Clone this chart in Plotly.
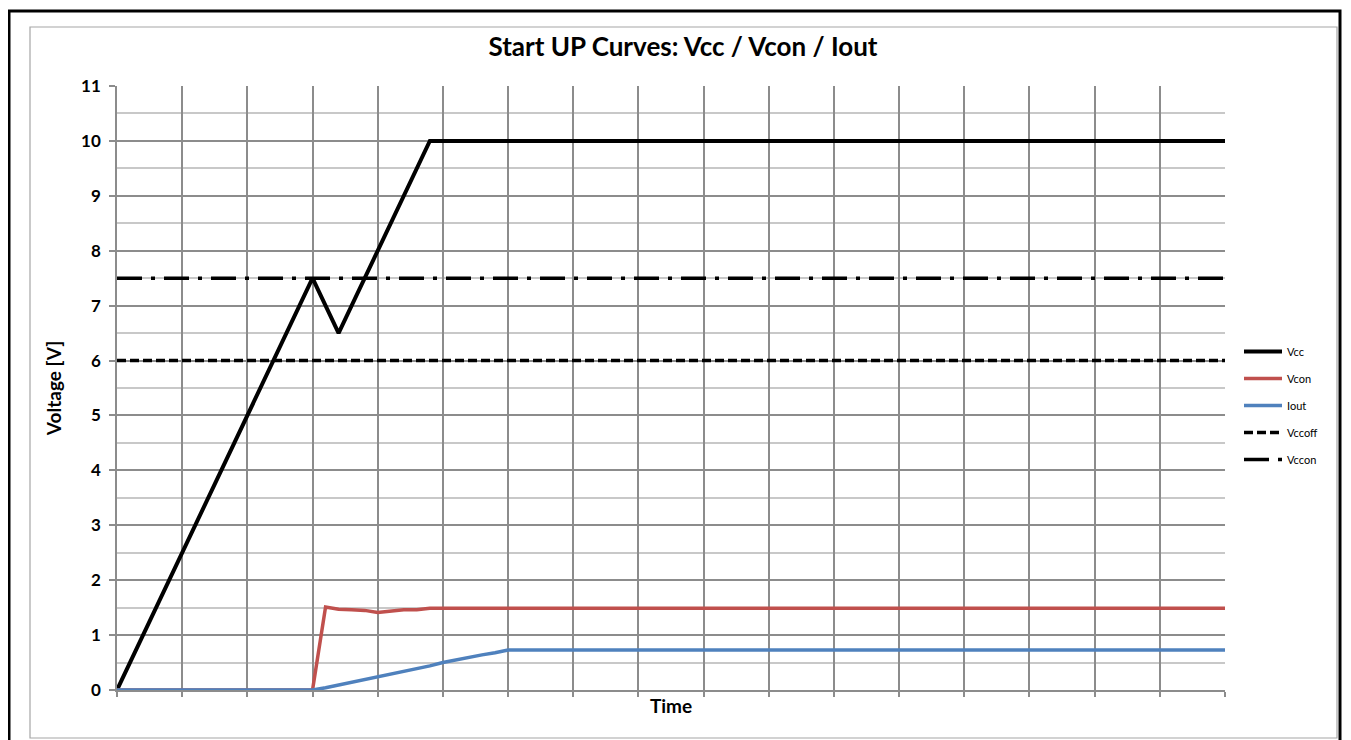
import plotly.graph_objects as go

# ---- data (x = sample index, gridline every 5 samples) ----
time_idx = list(range(86))

vcc = ([0.0, 0.5, 1.0, 1.5, 2.0, 2.5, 3.0, 3.5, 4.0, 4.5, 5.0, 5.5, 6.0, 6.5, 7.0, 7.5,
        7.0, 6.5, 7.0, 7.5, 8.0, 8.5, 9.0, 9.5, 10.0] + [10.0] * 61)
vcon = ([0.0] * 16 + [1.51, 1.47, 1.46, 1.45, 1.41, 1.44, 1.46, 1.46, 1.49] + [1.49] * 61)
iout = ([0.0] * 16 + [0.04, 0.09, 0.14, 0.19, 0.24, 0.28, 0.33, 0.38, 0.44, 0.50,
                      0.55, 0.59, 0.64, 0.68, 0.73] + [0.73] * 55)
vccoff = [6.0] * 86
vccon = [7.5] * 86

series_names = ["Vcc", "Vcon", "Iout", "Vccoff", "Vccon"]
title_text = "Start UP Curves: Vcc / Vcon / Iout"
y_title = "Voltage [V]"
x_title = "Time"

FONT = "Lato"
OFF = 8  # page body margin offset
W, H = 1351 - OFF, 740 - OFF
L, R, T, B = 117, 1225, 86, 690  # page coordinates of plot area

def px(x):
    return (x - L) / (R - L)

def py(y):
    return (B - y) / (B - T)

fig = go.Figure()
styles = [
    dict(color="#000000", width=4, dash="solid"),
    dict(color="#C0504D", width=3.5, dash="solid"),
    dict(color="#4F81BD", width=3.5, dash="solid"),
    dict(color="#000000", width=3.5, dash="9px,4px"),
    dict(color="#000000", width=3.5, dash="25px,9px,4px,9px"),
]
for name, ys, st in zip(series_names, [vcc, vcon, iout, vccoff, vccon], styles):
    fig.add_trace(go.Scatter(x=time_idx, y=ys, mode="lines", name=name,
                             legendgroup=name, line=st))

fig.update_layout(
    width=W, height=H,
    margin=dict(l=L - OFF, r=1351 - R, t=T - OFF, b=740 - B),
    paper_bgcolor="white", plot_bgcolor="white",
    font=dict(family=FONT, color="#000000"),
    title=dict(text="<b>" + title_text + "</b>", x=(683 - OFF) / W,
               xanchor="center", y=1 - (47 - OFF) / H, yanchor="middle",
               font=dict(size=26, family=FONT)),
    showlegend=True,
    legend=dict(x=px(1239), xanchor="left", y=py(337), yanchor="top",
                font=dict(size=11, family=FONT), tracegroupgap=8,
                bgcolor="rgba(0,0,0,0)", itemwidth=38),
    xaxis=dict(range=[0, 85], tickmode="linear", tick0=0, dtick=5,
               showticklabels=False, showgrid=True, gridcolor="#8C8C8C", gridwidth=1.5,
               showline=True, linecolor="#8C8C8C", linewidth=1.5,
               ticks="outside", ticklen=5, tickcolor="#8C8C8C", tickwidth=1.5,
               zeroline=False,
               title=dict(text="<b>" + x_title + "</b>", font=dict(size=19, family=FONT), standoff=4)),
    yaxis=dict(range=[0, 11], tickmode="linear", tick0=0, dtick=1,
               showgrid=True, gridcolor="#8C8C8C", gridwidth=1.5,
               minor=dict(dtick=0.5, showgrid=True, gridcolor="#C8C8C8", gridwidth=1.5),
               showline=True, linecolor="#8C8C8C", linewidth=1.5,
               ticks="outside", ticklen=6, tickcolor="#8C8C8C", tickwidth=1.5,
               ticklabelstandoff=5,
               zeroline=False,
               tickfont=dict(size=17, family=FONT),
               title=dict(text="<b>" + y_title + "</b>", font=dict(size=19, family=FONT), standoff=14)),
)
fig.update_yaxes(tickprefix="<b>", ticksuffix="</b>")

# outer black frame and inner gray frame
fig.add_shape(type="rect", xref="paper", yref="paper",
              x0=px(9), x1=px(1340), y0=py(745), y1=py(11),
              line=dict(color="#000000", width=3), fillcolor="rgba(0,0,0,0)", layer="above")
fig.add_shape(type="rect", xref="paper", yref="paper",
              x0=px(30), x1=px(1337), y0=py(738), y1=py(27),
              line=dict(color="#A6A6A6", width=1.2), fillcolor="rgba(0,0,0,0)", layer="above")

fig.write_html("out.html")
